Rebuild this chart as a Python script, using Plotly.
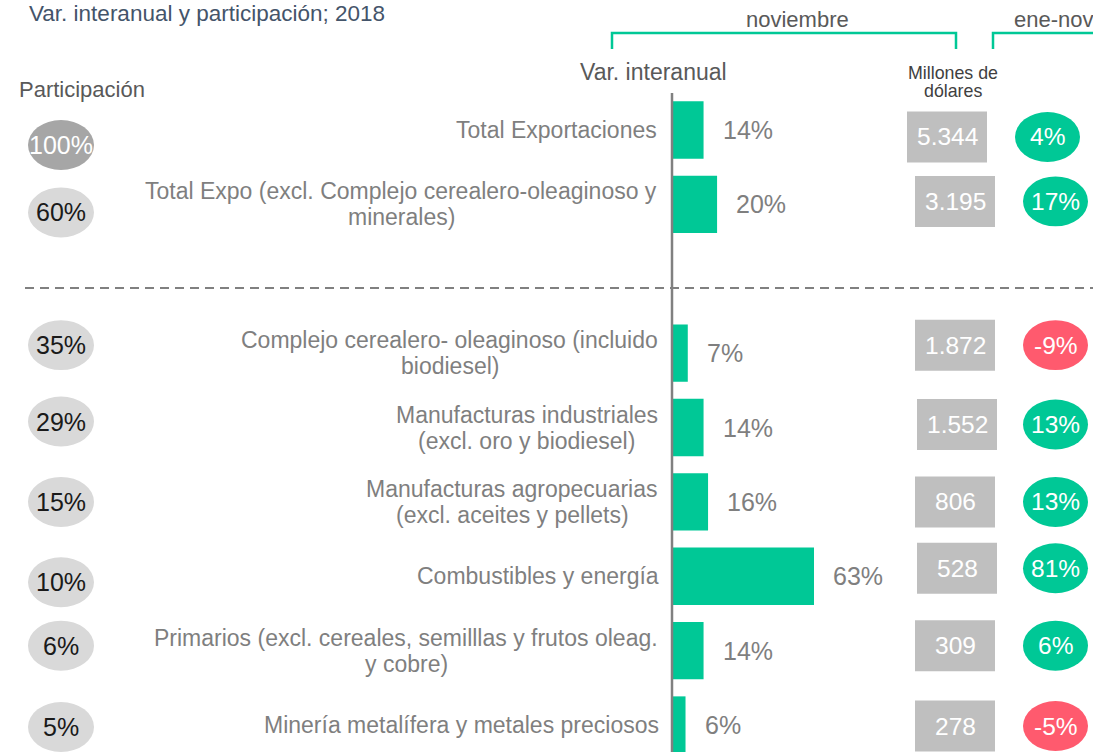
import plotly.graph_objects as go

# ---------------- data ----------------
categories = [
    "Total Exportaciones",
    "Total Expo (excl. Complejo cerealero-oleaginoso y<br>minerales)",
    "Complejo cerealero- oleaginoso (incluido<br>biodiesel)",
    "Manufacturas industriales<br>(excl. oro y biodiesel)",
    "Manufacturas agropecuarias<br>(excl. aceites y pellets)",
    "Combustibles y energía",
    "Primarios (excl. cereales, semilllas y frutos oleag.<br>y cobre)",
    "Minería metalífera y metales preciosos",
]
var_interanual = [14, 20, 7, 14, 16, 63, 14, 6]          # % noviembre
millones_usd = [5344, 3195, 1872, 1552, 806, 528, 309, 278]
var_ene_nov = [4, 17, -9, 13, 13, 81, 6, -5]             # %
participacion = [100, 60, 35, 29, 15, 10, 6, 5]          # %

# ---------------- layout constants ----------------
W, H = 1093, 752
GREEN = "#00c896"
RED = "#ff5a6e"
GRAY_TXT = "#7f7f7f"
FONT = "Arial, Liberation Sans, sans-serif"

X0_PX = 672             # pixel of the zero line
PX_PER_UNIT = 142 / 63  # bar scale
ROW0_PX = 130
ROW_STEP = 74.375
LINE_H = 26             # label line spacing
LABEL_SIZE = 23
LABEL_RIGHT = 658

# per-row vertical nudges (pixels) of the side badges, as in the original slide
part_dy = [15, 8, -8, -6, 0, 6, -5, 2]
box_dy = [7, -3, -8, -3, 0, -8, -5, 1]
box_dx = [-8, 0, 0, 2, 0, 2, 0, 0]

# Arial/Liberation Sans advance widths (1/1000 em) for centring wrapped lines
_W = {" ": 278, "(": 333, ")": 333, ",": 278, "-": 333, ".": 278,
      "a": 556, "b": 556, "c": 500, "d": 556, "e": 556, "f": 278, "g": 556, "h": 556,
      "i": 222, "j": 222, "k": 500, "l": 222, "m": 833, "n": 556, "o": 556, "p": 556,
      "q": 556, "r": 333, "s": 500, "t": 278, "u": 556, "v": 500, "w": 722, "x": 500,
      "y": 500, "z": 500, "C": 722, "E": 667, "M": 833, "P": 667, "T": 611,
      "í": 222, "á": 556, "é": 556, "ó": 556}


def text_width(s, size):
    return sum(_W.get(ch, 556) for ch in s) * size / 1000


rows = [i if i < 2 else i + 1 for i in range(len(categories))]

x_range = [-X0_PX / PX_PER_UNIT, (W - X0_PX) / PX_PER_UNIT]
y_range = [(H - ROW0_PX) / ROW_STEP, -ROW0_PX / ROW_STEP]


def px(x):
    return x / W


def py(y):
    return 1 - y / H


def fmt_thousands(v):
    return f"{v:,}".replace(",", ".")


fig = go.Figure()
fig.add_trace(go.Bar(
    x=var_interanual, y=rows, orientation="h", width=0.77,
    marker=dict(color=GREEN, line=dict(width=0)),
    hoverinfo="skip", showlegend=False,
))

shapes = []
annotations = []

# zero line
shapes.append(dict(type="line", xref="x", yref="paper", x0=0, x1=0,
                   y0=py(93), y1=py(H), line=dict(color="#808080", width=2.5)))
# dashed separator
shapes.append(dict(type="line", xref="paper", yref="paper", x0=px(25), x1=px(W),
                   y0=py(288), y1=py(288),
                   line=dict(color="#808080", width=2, dash="9px,6px")))
# brackets
shapes.append(dict(type="path", xref="paper", yref="paper",
                   path=f"M {px(612)},{py(49)} L {px(612)},{py(33)} L {px(956)},{py(33)} L {px(956)},{py(49)}",
                   line=dict(color=GREEN, width=2.5)))
shapes.append(dict(type="path", xref="paper", yref="paper",
                   path=f"M {px(993)},{py(49)} L {px(993)},{py(33)} L {px(W + 5)},{py(33)}",
                   line=dict(color=GREEN, width=2.5)))


def txt(x, y, text, size, color, xanchor="left", yanchor="middle"):
    annotations.append(dict(xref="paper", yref="paper", x=px(x), y=py(y), text=text,
                            showarrow=False, xanchor=xanchor, yanchor=yanchor,
                            font=dict(family=FONT, size=size, color=color)))


# header texts
txt(27, -1, "Var. interanual y participación; 2018", 22.5, "#44546a", yanchor="top")
txt(17, 90, "Participación", 22, "#595959")
txt(653, 72, "Var. interanual", 23, "#595959", xanchor="center")
txt(797, 20, "noviembre", 22, "#595959", xanchor="center")
txt(1012, 20, "ene-nov", 22, "#595959")
txt(953, 73, "Millones de", 17.8, "#404040", xanchor="center")
txt(953, 91, "dólares", 17.8, "#404040", xanchor="center")

for i, r in enumerate(rows):
    yc_px = ROW0_PX + r * ROW_STEP
    # category label: right-aligned block, lines centred, tight line spacing
    lines = categories[i].split("<br>")
    n = len(lines)
    block_w = max(text_width(s, LABEL_SIZE) for s in lines)
    cx = LABEL_RIGHT - block_w / 2
    for k, line in enumerate(lines):
        ly = yc_px + (k - (n - 1) / 2) * LINE_H
        annotations.append(dict(xref="paper", yref="paper", x=px(cx), y=py(ly), text=line,
                                showarrow=False, xanchor="center", yanchor="middle",
                                font=dict(family=FONT, size=LABEL_SIZE, color=GRAY_TXT)))
    # bar value
    annotations.append(dict(xref="x", yref="paper", x=var_interanual[i], y=py(yc_px),
                            text=f"{var_interanual[i]}%", showarrow=False, xanchor="left",
                            yanchor="middle", xshift=17,
                            font=dict(family=FONT, size=25, color=GRAY_TXT)))
    # participation ellipse
    big = participacion[i] == 100
    cy = yc_px + part_dy[i]
    shapes.append(dict(type="circle", xref="paper", yref="paper",
                       x0=px(28), x1=px(94), y0=py(cy - 25), y1=py(cy + 25),
                       fillcolor="#a6a6a6" if big else "#d9d9d9", line=dict(width=0)))
    annotations.append(dict(xref="paper", yref="paper", x=px(61), y=py(cy),
                            text=f"{participacion[i]}%", showarrow=False, xanchor="center",
                            yanchor="middle",
                            font=dict(family=FONT, size=25, color="white" if big else "#1a1a1a")))
    # millions box
    by = yc_px + box_dy[i]
    bx = 955 + box_dx[i]
    shapes.append(dict(type="rect", xref="paper", yref="paper",
                       x0=px(bx - 40), x1=px(bx + 40), y0=py(by - 25.5), y1=py(by + 25.5),
                       fillcolor="#bfbfbf", line=dict(width=0)))
    annotations.append(dict(xref="paper", yref="paper", x=px(bx), y=py(by),
                            text=fmt_thousands(millones_usd[i]), showarrow=False,
                            xanchor="center", yanchor="middle",
                            font=dict(family=FONT, size=24.5, color="white")))
    # ene-nov ellipse
    col = GREEN if var_ene_nov[i] >= 0 else RED
    ex = 1055.5 + (box_dx[i] if i == 0 else 0)
    shapes.append(dict(type="circle", xref="paper", yref="paper",
                       x0=px(ex - 32.5), x1=px(ex + 32.5), y0=py(by - 25), y1=py(by + 25),
                       fillcolor=col, line=dict(width=0)))
    annotations.append(dict(xref="paper", yref="paper", x=px(ex), y=py(by),
                            text=f"{var_ene_nov[i]}%", showarrow=False, xanchor="center",
                            yanchor="middle", font=dict(family=FONT, size=24.5, color="white")))

fig.update_layout(
    width=W, height=H, autosize=False,
    margin=dict(l=0, r=0, t=0, b=0),
    paper_bgcolor="white", plot_bgcolor="white",
    xaxis=dict(range=x_range, visible=False, fixedrange=True),
    yaxis=dict(range=y_range, visible=False, fixedrange=True),
    shapes=shapes, annotations=annotations,
    showlegend=False,
)

fig.write_html("out.html", config={"displayModeBar": False},
               post_script="document.body.style.margin='0';")
